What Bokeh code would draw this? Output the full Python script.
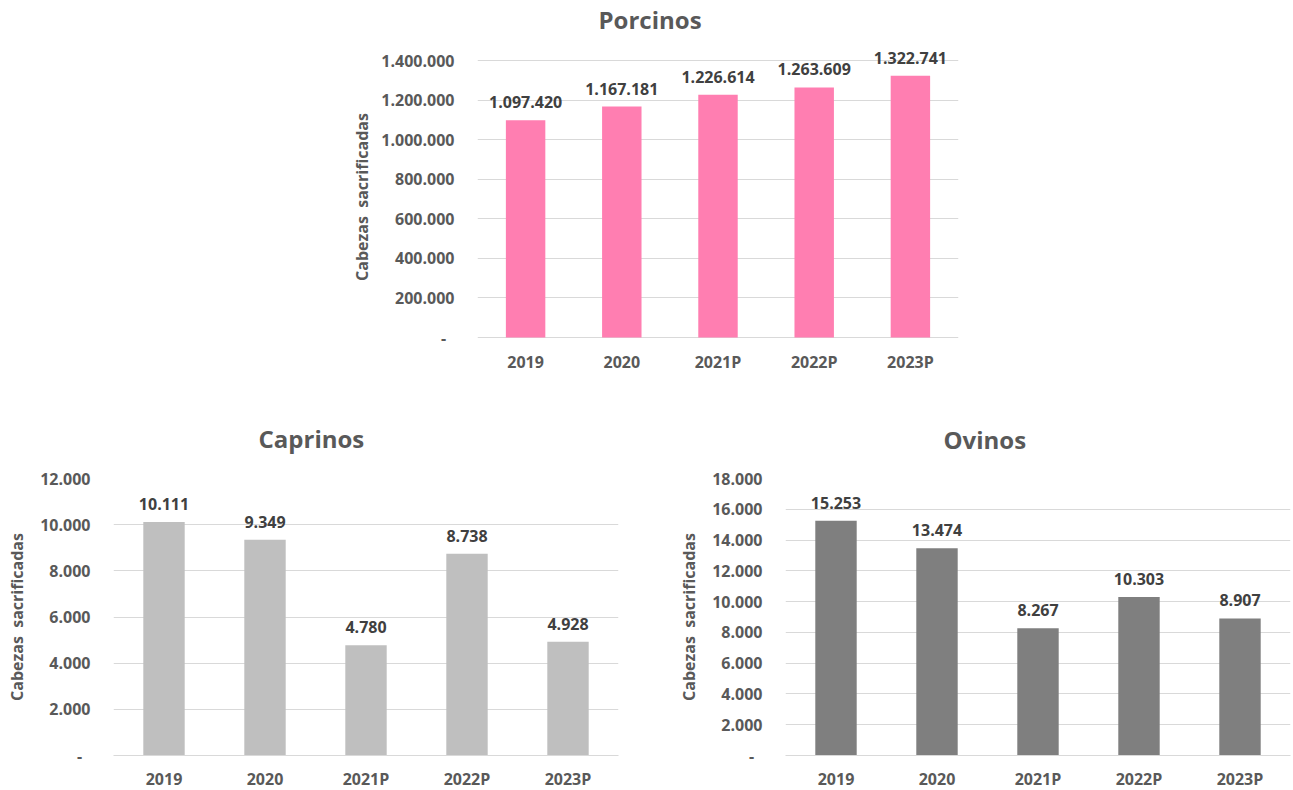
from bokeh.plotting import figure
from bokeh.models import FactorRange, Range1d, FixedTicker, Title, Spacer, ColumnDataSource
from bokeh.layouts import row, column
from bokeh.core.properties import value
from bokeh.embed import file_html
from bokeh.resources import INLINE

# ---------------- data ----------------
years = ["2019", "2020", "2021P", "2022P", "2023P"]

porcinos = [1097420, 1167181, 1226614, 1263609, 1322741]
caprinos = [10111, 9349, 4780, 8738, 4928]
ovinos = [15253, 13474, 8267, 10303, 8907]

porcinos_ticks = [0, 200000, 400000, 600000, 800000, 1000000, 1200000, 1400000]
porcinos_tick_labels = ["-", "200.000", "400.000", "600.000", "800.000",
                        "1.000.000", "1.200.000", "1.400.000"]
caprinos_ticks = [0, 2000, 4000, 6000, 8000, 10000, 12000]
caprinos_tick_labels = ["-", "2.000", "4.000", "6.000", "8.000", "10.000", "12.000"]
ovinos_ticks = [0, 2000, 4000, 6000, 8000, 10000, 12000, 14000, 16000, 18000]
ovinos_tick_labels = ["-", "2.000", "4.000", "6.000", "8.000", "10.000",
                      "12.000", "14.000", "16.000", "18.000"]

y_title = "Cabezas\u00a0 sacrificadas"

FONT = "Open Sans"
TXT = "#595959"
LBL = "#404040"
GRID = "#D9D9D9"


def fmt(v):
    return f"{v:,}".replace(",", ".")


def make_chart(title, vals, ticks, tick_labels, color, frame_w, frame_h,
               mb_left, mb_right, mb_top, mb_bottom, tick_standoff,
               label_standoff, xlab_standoff, title_offset, title_gap,
               pad_top=0, pad_bottom=0):
    # pad_top / pad_bottom: extra pixels of plot area beyond the tick span
    px = (ticks[-1] - ticks[0]) / frame_h
    p = figure(x_range=FactorRange(*years),
               y_range=Range1d(ticks[0] - pad_bottom * px, ticks[-1] + pad_top * px),
               frame_width=frame_w, frame_height=frame_h + pad_top + pad_bottom,
               min_border_left=mb_left, min_border_right=mb_right,
               min_border_top=mb_top, min_border_bottom=mb_bottom,
               output_backend="svg", toolbar_location=None,
               background_fill_color="white", border_fill_color="white")
    p.outline_line_color = None
    src = ColumnDataSource(dict(x=years, y=vals, t=[fmt(v) for v in vals]))
    p.vbar(x="x", top="y", width=0.41, source=src, fill_color=color,
           line_color=None)
    p.text(x="x", y="y", text="t", source=src, text_align="center",
           text_baseline="alphabetic", y_offset=-18,
           text_font=value(FONT), text_font_size="16px",
           text_font_style="bold", text_color=LBL)

    p.xgrid.grid_line_color = None
    p.ygrid.grid_line_color = GRID
    p.ygrid.grid_line_width = 1
    p.yaxis.ticker = FixedTicker(ticks=ticks)
    overrides = {}
    for t, l in zip(ticks, tick_labels):
        overrides[t] = l + ("\u00a0\u00a0" if l == "-" else "")
    p.yaxis.major_label_overrides = overrides
    for ax in (p.xaxis, p.yaxis):
        ax.major_tick_line_color = None
        ax.minor_tick_line_color = None
        ax.major_tick_out = 0
        ax.major_tick_in = 0
        ax.major_label_text_font = FONT
        ax.major_label_text_font_size = "16px"
        ax.major_label_text_font_style = "bold"
        ax.major_label_text_color = TXT
    p.yaxis.axis_line_color = None
    p.xaxis.axis_line_color = GRID if pad_bottom == 0 else None
    p.yaxis.major_label_standoff = tick_standoff
    p.xaxis.major_label_standoff = xlab_standoff
    p.yaxis.axis_label = y_title
    p.yaxis.axis_label_text_font = FONT
    p.yaxis.axis_label_text_font_size = "16px"
    p.yaxis.axis_label_text_font_style = "bold"
    p.yaxis.axis_label_text_color = TXT
    p.yaxis.axis_label_standoff = label_standoff

    # an empty title used as a gap between the frame and the chart title
    p.add_layout(Title(text=" ", text_font_size="1px", standoff=title_gap,
                       text_color="white"), "above")
    p.add_layout(Title(text=title, align="left", offset=title_offset,
                       standoff=0, vertical_align="bottom",
                       text_font=FONT, text_font_size="24px",
                       text_font_style="bold", text_color=TXT), "above")
    return p


p1 = make_chart("Porcinos", porcinos, porcinos_ticks, porcinos_tick_labels,
                "#FF7EB1", 481, 277, 140, 20, 45, 40, 23, 5, 3, 121, 8,
                pad_top=14, pad_bottom=10)
p2 = make_chart("Caprinos", caprinos, caprinos_ticks, caprinos_tick_labels,
                "#BFBFBF", 505, 277, 113, 50, 91, 36, 23, 9, 12, 145, 21)
p3 = make_chart("Ovinos", ovinos, ovinos_ticks, ovinos_tick_labels,
                "#7F7F7F", 505, 277, 117, 3, 91, 36, 23, 9, 12, 158, 20)

layout = column(row(Spacer(width=337, height=10), p1), row(p2, p3))

open("out.html", "w").write(file_html(layout, INLINE))
